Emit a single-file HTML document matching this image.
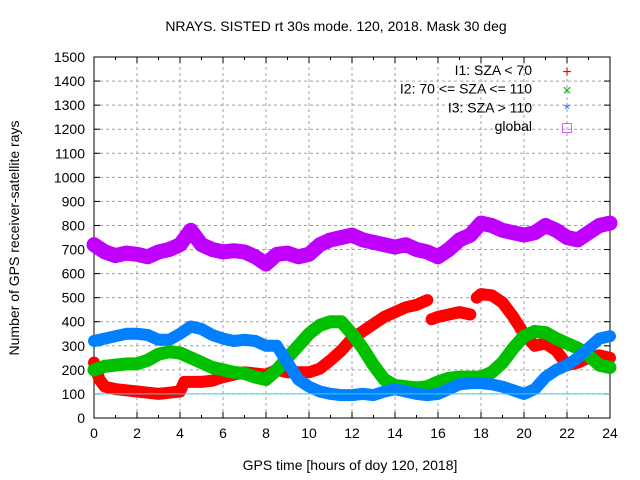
<!DOCTYPE html>
<html><head><meta charset="utf-8"><style>
body{margin:0;background:#fff}
svg{display:block;font-family:"Liberation Sans",sans-serif}
</style></head><body>
<svg id="chart" width="640" height="480" viewBox="0 0 640 480">
<text x="336" y="31" font-size="14" text-anchor="middle" fill="#000">NRAYS. SISTED rt 30s mode. 120, 2018. Mask 30 deg</text>
<g id="grid"></g>
<g id="axes"></g>
<g id="series"></g>
<text x="350" y="470" font-size="14" text-anchor="middle">GPS time [hours of doy 120, 2018]</text>
<text transform="translate(19,238) rotate(-90)" font-size="14" text-anchor="middle">Number of GPS receiver-satellite rays</text>
<g id="legend"></g>
</svg>
<script>
const hours=[0,0.5,1,1.5,2,2.5,3,3.5,4,4.5,5,5.5,6,6.5,7,7.5,8,8.5,9,9.5,10,10.5,11,11.5,12,12.5,13,13.5,14,14.5,15,15.5,16,16.5,17,17.5,18,18.5,19,19.5,20,20.5,21,21.5,22,22.5,23,23.5,24];
const globalVals=[720,690,675,685,680,670,690,700,720,780,720,700,690,695,690,670,640,680,685,670,680,720,740,750,760,740,730,720,710,720,700,690,670,700,740,760,810,800,780,770,760,770,800,780,750,740,770,800,810];
const i3Vals=[320,330,340,350,350,345,325,325,350,380,370,345,330,320,325,320,300,300,230,160,130,110,100,95,95,100,95,110,120,110,100,95,100,120,140,145,145,140,130,115,100,120,170,200,220,250,290,330,340];
const i2Vals=[200,215,220,225,225,240,265,275,270,250,230,210,200,190,185,170,160,200,250,300,350,385,400,400,350,290,220,160,135,130,125,130,150,165,170,170,170,190,230,290,340,360,355,330,310,290,260,220,210];
const i1Hours=[0,0.25,0.5,1,1.5,2,2.5,3,3.5,4,4.2,4.5,5,5.5,6,6.5,7,7.5,8,8.5,9,9.5,10,10.5,11,11.5,12,12.5,13,13.5,14,14.5,15,15.5,15.6,15.7,16,16.5,17,17.5,17.7,17.8,18,18.5,19,19.5,20,20.5,21,21.5,22,22.5,23,23.5,24];
const i1Vals=[230,160,130,120,115,110,105,100,105,110,150,150,150,155,170,180,190,185,180,200,190,190,190,205,240,280,330,360,390,420,440,460,470,490,null,410,420,430,440,430,null,500,515,510,480,420,350,300,310,280,220,230,250,260,250];
const xTicks=[0,2,4,6,8,10,12,14,16,18,20,22,24];
const yTicks=[0,100,200,300,400,500,600,700,800,900,1000,1100,1200,1300,1400,1500];
const X0=94,X1=610,Y0=418,Y1=57;
const xs=h=>X0+h*(X1-X0)/24;
const ys=v=>Y0-v*(Y0-Y1)/1500;
const NS="http://www.w3.org/2000/svg";
function mk(t,a,p){const e=document.createElementNS(NS,t);for(const k in a)e.setAttribute(k,a[k]);p.appendChild(e);return e;}
const grid=document.getElementById('grid'),axes=document.getElementById('axes'),ser=document.getElementById('series'),leg=document.getElementById('legend');
yTicks.forEach(v=>{
  if(v>0&&v<1500){const l=mk('line',{x1:X0,x2:X1,y1:ys(v),y2:ys(v),stroke:'#a0a0a0','stroke-dasharray':'3,3'},grid);
  
  }
  mk('line',{x1:X0,x2:X0+6,y1:ys(v),y2:ys(v),stroke:'#000'},axes);
  mk('line',{x1:X1,x2:X1-6,y1:ys(v),y2:ys(v),stroke:'#000'},axes);
  const t=mk('text',{x:X0-9,y:ys(v)+5,'font-size':14,'text-anchor':'end'},axes);t.textContent=v;
  
  
});
for(let h=0;h<=24;h++){
  const major=h%2===0;
  if(major&&h>0&&h<24){const l=mk('line',{x1:xs(h),x2:xs(h),y1:Y0,y2:Y1,stroke:'#a0a0a0','stroke-dasharray':'3,3'},grid);
  
  }
  mk('line',{x1:xs(h),x2:xs(h),y1:Y0,y2:Y0-(major?6:3),stroke:'#000'},axes);
  mk('line',{x1:xs(h),x2:xs(h),y1:Y1,y2:Y1+(major?6:3),stroke:'#000'},axes);
}
xTicks.forEach(h=>{const t=mk('text',{x:xs(h),y:Y0+20,'font-size':14,'text-anchor':'middle'},axes);t.textContent=h;
  
  });
mk('rect',{x:X0,y:Y1,width:X1-X0,height:Y0-Y1,fill:'none',stroke:'#000'},axes);
function path(hs,vs){let d='',pen=false;hs.forEach((h,i)=>{const v=vs[i];if(v==null){pen=false;return;}d+=(pen?'L':'M')+xs(h).toFixed(1)+','+ys(v).toFixed(1);pen=true;});return d;}
const series=[
 {name:'series-i1',hs:i1Hours,vs:i1Vals,c:'#ff0000',w:12},
 {name:'series-i2',hs:hours,vs:i2Vals,c:'#00c000',w:13},
 {name:'series-i3',hs:hours,vs:i3Vals,c:'#0080ff',w:12},
 {name:'series-global',hs:hours,vs:globalVals,c:'#c000ff',w:15}];
series.forEach(s=>{const p=mk('path',{d:path(s.hs,s.vs),fill:'none',stroke:s.c,'stroke-width':s.w,'stroke-linejoin':'round','stroke-linecap':'round'},ser);
  
  });
const ref=mk('line',{x1:X0,x2:X1,y1:ys(100),y2:ys(100),stroke:'#40d0e0','stroke-width':1},ser);


const legs=[['I1: SZA < 70','#ff0000','+'],['I2: 70 <= SZA <= 110','#00c000','×'],['I3: SZA > 110','#0080ff','*'],['global','#c000ff','□']];
legs.forEach((l,i)=>{const y=75+i*18.7;
  const t=mk('text',{x:532,y:y,'font-size':14,'text-anchor':'end'},leg);t.textContent=l[0];
  
  
  const g=mk('text',{x:567,y:y+2,'font-size':16,'text-anchor':'middle',fill:l[1]},leg);g.textContent=l[2];
  
  });
</script>
</body></html>
